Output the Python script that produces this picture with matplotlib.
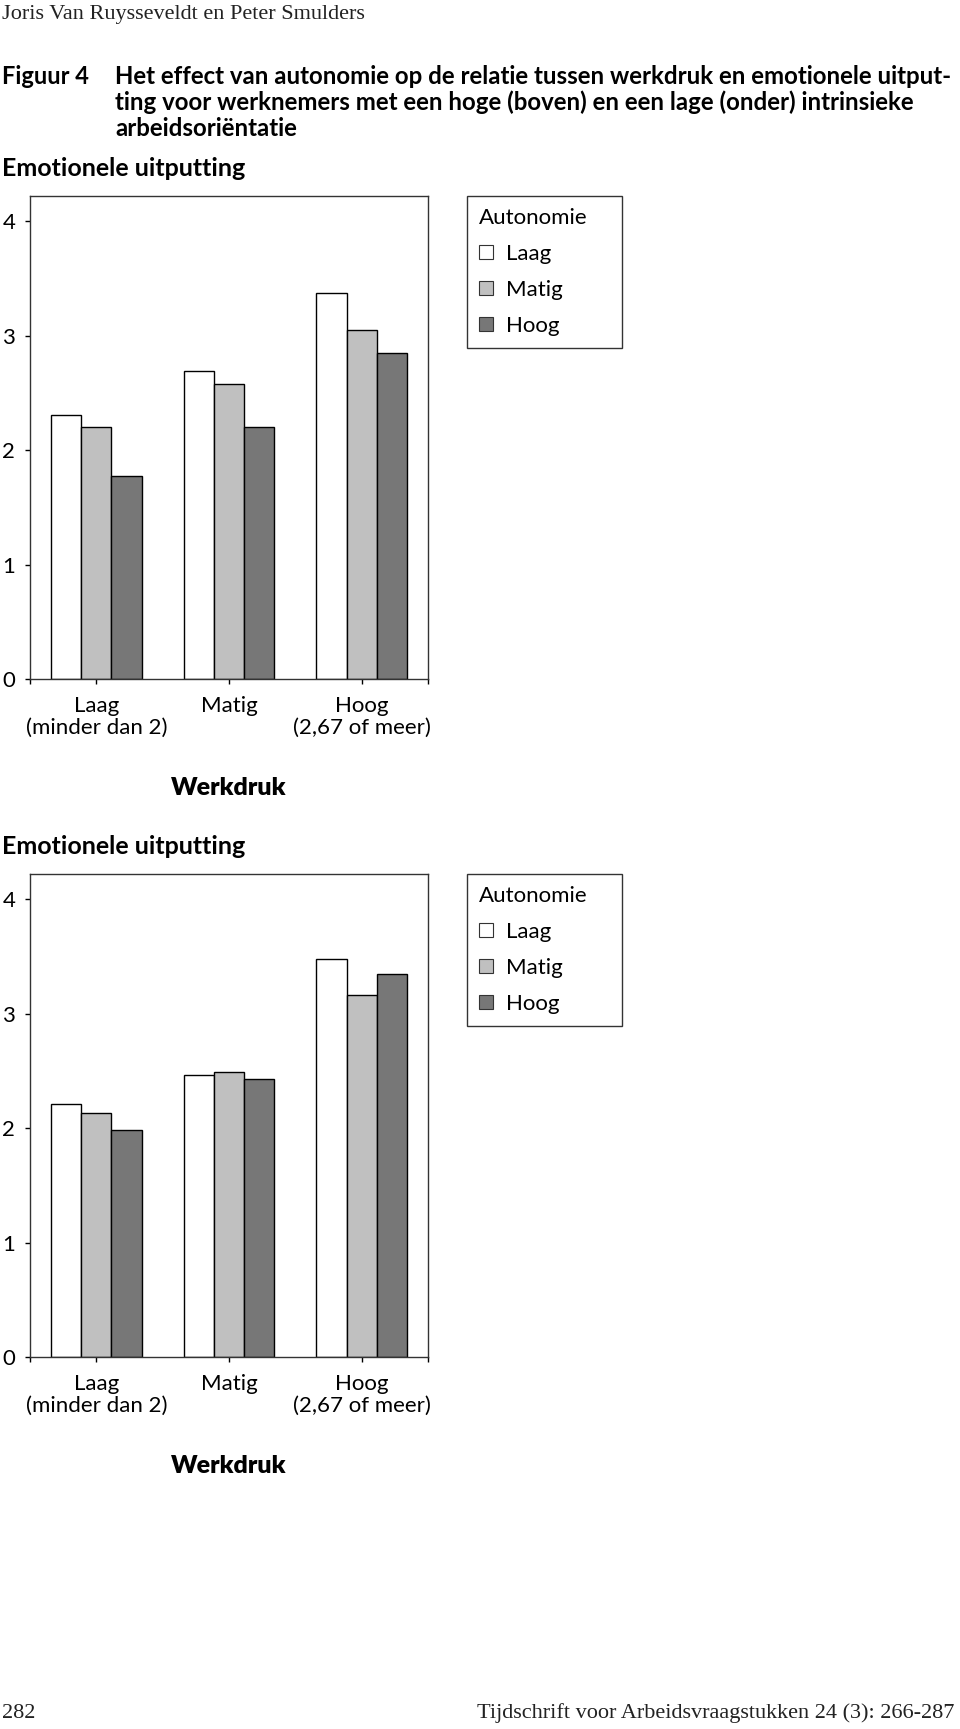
import numpy as np
import matplotlib
matplotlib.use('Agg')
import matplotlib.pyplot as plt
from matplotlib.patches import Patch

categories = ['Laag\n(minder dan 2)', 'Matig', 'Hoog\n(2,67 of meer)']
series_names = ['Laag', 'Matig', 'Hoog']
series_colors = ['#ffffff', '#c0c0c0', '#777777']

# boven: hoge intrinsieke arbeidsorientatie
top_laag = [2.31, 2.69, 3.37]
top_matig = [2.20, 2.58, 3.05]
top_hoog = [1.77, 2.20, 2.85]

# onder: lage intrinsieke arbeidsorientatie
bottom_laag = [2.21, 2.46, 3.48]
bottom_matig = [2.13, 2.49, 3.16]
bottom_hoog = [1.98, 2.43, 3.35]

yticks = [0, 1, 2, 3, 4]

W, H = 960, 1729
fig = plt.figure(figsize=(W / 100, H / 100), dpi=100)
fig.patch.set_facecolor('white')

sans = 'Lato'
serif = 'Liberation Serif'


def px_axes(left, top, right, bottom):
    return fig.add_axes([left / W, 1 - bottom / H, (right - left) / W, (bottom - top) / H])


def draw_panel(ax, values, legend_top):
    x = np.arange(len(categories))
    width = 0.228
    for i, vals in enumerate(values):
        ax.bar(x + (i - 1) * width, vals, width, color=series_colors[i],
               edgecolor='black', linewidth=1.0, label=series_names[i], zorder=2)
    ax.set_xlim(-0.5, 2.5)
    ax.set_ylim(0, 4.22)
    ax.set_yticks(yticks)
    ax.set_yticklabels([str(t) for t in yticks], fontsize=16, family=sans)
    ax.set_xticks(x)
    ax.set_xticklabels(categories, fontsize=16, family=sans, linespacing=1.08)
    ax.set_xticks([-0.5, 2.5], minor=True)
    ax.tick_params(axis='y', direction='out', length=3.6, width=1, pad=7, colors='black')
    ax.tick_params(axis='x', which='both', direction='out', length=3.6, width=1, pad=9)
    for s in ax.spines.values():
        s.set_linewidth(1.0)
        s.set_color('#333333')
    handles = [Patch(facecolor=c, edgecolor='#333333', linewidth=0.8) for c in series_colors]
    leg = fig.legend(handles, series_names, title='Autonomie', loc='upper left',
                     bbox_to_anchor=(467 / W, 1 - (legend_top + 147) / H, 155 / W, 147 / H),
                     mode='expand',
                     frameon=True, fancybox=False, edgecolor='#333333',
                     prop={'family': sans, 'size': 16},
                     title_fontproperties={'family': sans, 'size': 16},
                     alignment='left', handlelength=0.6, handleheight=0.6,
                     handletextpad=0.6, labelspacing=0.71, borderpad=0.55,
                     borderaxespad=0, framealpha=1)
    leg.get_frame().set_linewidth(1.0)


ax1 = px_axes(30, 196, 428, 679)
draw_panel(ax1, [top_laag, top_matig, top_hoog], 196)

ax2 = px_axes(30, 874, 428, 1357)
draw_panel(ax2, [bottom_laag, bottom_matig, bottom_hoog], 874)

# tekst rondom de figuur
fig.text(2 / W, 1 - 14 / H, 'Joris Van Ruysseveldt en Peter Smulders',
         family=serif, fontsize=16, color='#222222', va='center')
fig.text(2 / W, 1 - 76 / H, 'Figuur 4', family=sans, fontsize=17,
         fontweight='bold', va='center')
title_lines = ['Het effect van autonomie op de relatie tussen werkdruk en emotionele uitput-',
               'ting voor werknemers met een hoge (boven) en een lage (onder) intrinsieke',
               'arbeidsoriëntatie']
for i, line in enumerate(title_lines):
    fig.text(115 / W, 1 - (76 + 26 * i) / H, line, family=sans, fontsize=17.3,
             fontweight='bold', va='center')

fig.text(2 / W, 1 - 169 / H, 'Emotionele uitputting', family=sans, fontsize=18,
         fontweight='bold', va='center')
fig.text(229 / W, 1 - 788 / H, 'Werkdruk', family=sans, fontsize=18,
         fontweight='heavy', va='center', ha='center')
fig.text(2 / W, 1 - 846 / H, 'Emotionele uitputting', family=sans, fontsize=18,
         fontweight='bold', va='center')
fig.text(229 / W, 1 - 1466 / H, 'Werkdruk', family=sans, fontsize=18,
         fontweight='heavy', va='center', ha='center')

fig.text(2 / W, 1 - 1713 / H, '282', family=serif, fontsize=16, color='#222222', va='center')
fig.text(954 / W, 1 - 1713 / H, 'Tijdschrift voor Arbeidsvraagstukken 24 (3): 266-287',
         family=serif, fontsize=16, color='#222222', va='center', ha='right')

fig.savefig('out.png', dpi=100, facecolor='white')
